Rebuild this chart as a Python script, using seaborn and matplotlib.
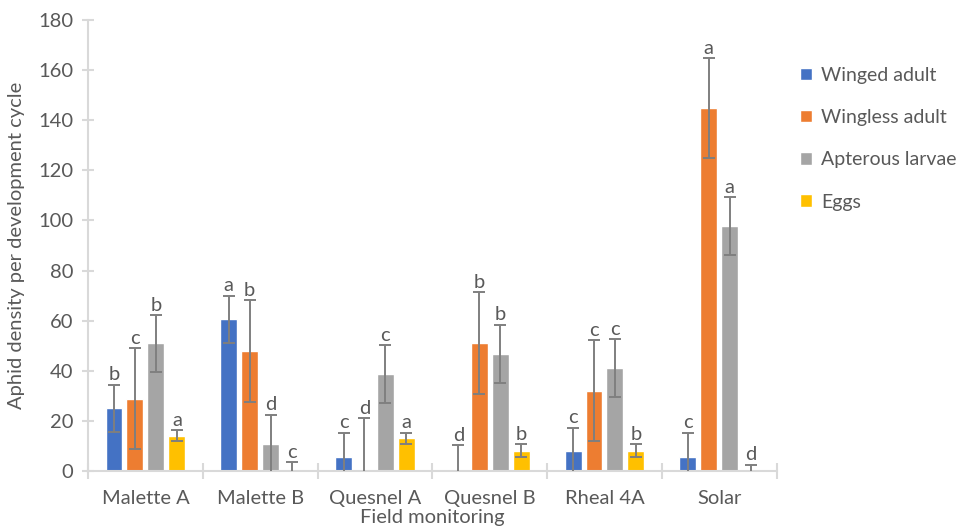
import matplotlib
matplotlib.use("Agg")
import matplotlib.pyplot as plt
import seaborn as sns
import pandas as pd
import numpy as np

sites = ["Malette A", "Malette B", "Quesnel A", "Quesnel B", "Rheal 4A", "Solar"]
stages = ["Winged adult", "Wingless adult", "Apterous larvae", "Eggs"]

winged_adult = [25.0, 60.6, 5.7, 0.3, 8.0, 5.7]
wingless_adult = [28.8, 47.9, 0.3, 51.1, 32.0, 144.8]
apterous_larvae = [51.0, 10.8, 38.8, 46.8, 41.0, 97.9]
eggs = [14.1, 0.5, 13.0, 8.1, 8.1, 0.5]

winged_err = [9.4, 9.4, 9.6, 10.0, 9.2, 9.6]
wingless_err = [20.2, 20.2, 20.8, 20.2, 20.2, 20.0]
apterous_err = [11.3, 11.7, 11.5, 11.6, 11.6, 11.5]
eggs_err = [2.3, 3.0, 2.3, 2.5, 2.5, 2.0]

winged_letters = ["b", "a", "c", "d", "c", "c"]
wingless_letters = ["c", "b", "d", "b", "c", "a"]
apterous_letters = ["b", "d", "c", "b", "c", "a"]
eggs_letters = ["a", "c", "a", "b", "b", "d"]

values = [winged_adult, wingless_adult, apterous_larvae, eggs]
errors = [winged_err, wingless_err, apterous_err, eggs_err]
letters = [winged_letters, wingless_letters, apterous_letters, eggs_letters]

palette = ["#4472C4", "#ED7D31", "#A5A5A5", "#FFC000"]
text_color = "#595959"
axis_color = "#D9D9D9"
fs = 14.5

df = pd.DataFrame({
    "site": np.repeat([sites], len(stages), axis=0).ravel(),
    "stage": np.repeat(stages, len(sites)),
    "density": np.concatenate(values),
})

sns.set_style("white")
plt.rcParams["font.family"] = ["Lato", "DejaVu Sans"]

fig = plt.figure(figsize=(9.6, 5.28), dpi=100)
ax = fig.add_axes([0.0917, 0.108, 0.7173, 0.854])

sns.barplot(data=df, x="site", y="density", hue="stage", order=sites,
            hue_order=stages, palette=palette, errorbar=None,
            width=0.73, gap=0.19, saturation=1, ax=ax, legend=True)

for container, errs, labs in zip(ax.containers, errors, letters):
    for bar, e, lab in zip(container, errs, labs):
        cx = bar.get_x() + bar.get_width() / 2
        h = bar.get_height()
        ax.errorbar(cx, h, yerr=e, fmt="none", ecolor="#7F7F7F",
                    elinewidth=1.4, capsize=4, capthick=1.4, zorder=3)
        ax.annotate(lab, (cx, h + e), xytext=(0, 1),
                    textcoords="offset points", ha="center", va="bottom",
                    fontsize=fs, color=text_color)

ax.set_ylim(0, 180)
ax.set_xlim(-0.5, len(sites) - 0.5)
ax.set_yticks(np.arange(0, 181, 20))
ax.set_xticks(np.arange(len(sites)))
ax.set_xticklabels(sites)
ax.set_xticks(np.arange(len(sites) + 1) - 0.5, minor=True)

for side in ["top", "right"]:
    ax.spines[side].set_visible(False)
for side in ["left", "bottom"]:
    ax.spines[side].set_color(axis_color)
    ax.spines[side].set_linewidth(1.5)

ax.tick_params(axis="y", which="major", direction="inout", length=9,
               width=1.5, color=axis_color, labelsize=fs,
               labelcolor=text_color, pad=6, left=True)
ax.tick_params(axis="x", which="major", length=0, labelsize=fs,
               labelcolor=text_color, pad=14)
ax.tick_params(axis="x", which="minor", direction="inout", length=12,
               width=1.5, color=axis_color, bottom=True)

ax.set_ylabel("Aphid density per development cycle", fontsize=fs,
              color=text_color)
ax.yaxis.set_label_coords(-0.092, 0.5)
ax.set_xlabel("Field monitoring", fontsize=fs, color=text_color, va="center")
ax.xaxis.set_label_coords(0.5, -0.104)

handles, labels_ = ax.get_legend_handles_labels()
ax.legend(handles, labels_, loc="upper left", bbox_to_anchor=(0.995, 0.957),
          frameon=False, fontsize=14, labelcolor=text_color,
          handlelength=0.6, handleheight=0.6, handletextpad=0.45,
          labelspacing=1.3, borderaxespad=1.0)

fig.savefig("out.png", dpi=100)
